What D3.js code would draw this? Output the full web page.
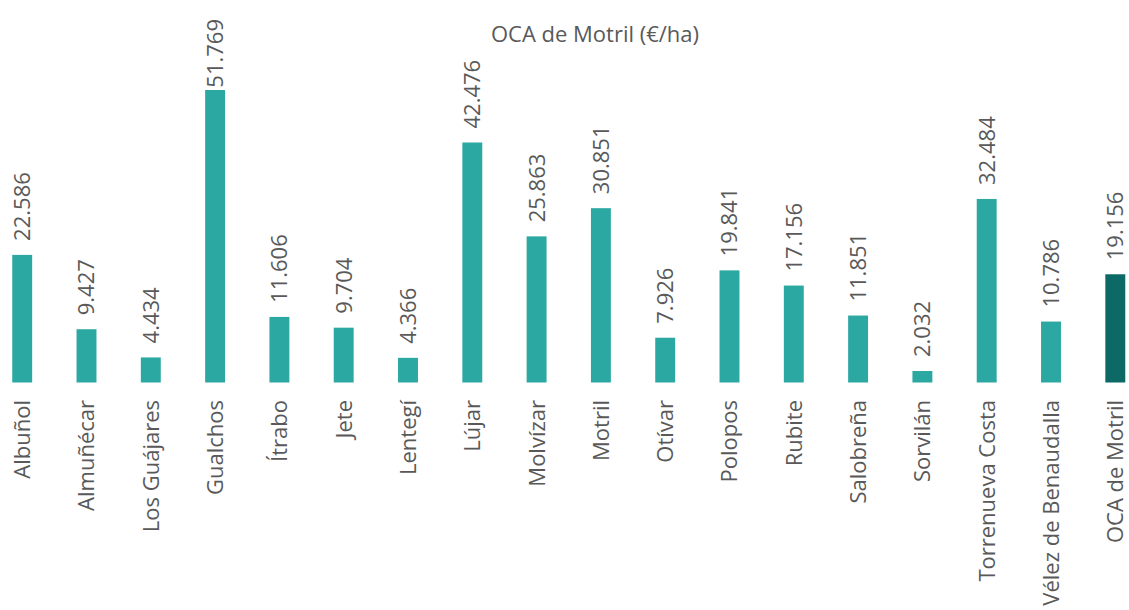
<!DOCTYPE html>
<html>
<head>
<meta charset="utf-8">
<script src="https://cdn.jsdelivr.net/npm/d3@7"></script>
<style>
  html, body { margin: 0; padding: 0; background: #fff; }
  svg { display: block; }
  text { font-family: "Open Sans", "Noto Sans", sans-serif; fill: #595959; }
</style>
</head>
<body>
<svg id="chart" width="1129" height="610"></svg>
<script>
const title = "OCA de Motril (€/ha)";
const categories = ["Albuñol", "Almuñécar", "Los Guájares", "Gualchos", "Ítrabo", "Jete", "Lentegí", "Lújar", "Molvízar", "Motril", "Otívar", "Polopos", "Rubite", "Salobreña", "Sorvilán", "Torrenueva Costa", "Vélez de Benaudalla", "OCA de Motril"];
const values = [22.586, 9.427, 4.434, 51.769, 11.606, 9.704, 4.366, 42.476, 25.863, 30.851, 7.926, 19.841, 17.156, 11.851, 2.032, 32.484, 10.786, 19.156];
const valueLabels = ["22.586", "9.427", "4.434", "51.769", "11.606", "9.704", "4.366", "42.476", "25.863", "30.851", "7.926", "19.841", "17.156", "11.851", "2.032", "32.484", "10.786", "19.156"];
const highlight = "OCA de Motril";

const svg = d3.select("#chart");
const W = 1129, H = 610;
const step = 64.3;
const r0 = 22.2 - step / 2;

const x = d3.scaleBand()
  .domain(categories)
  .range([r0, r0 + step * categories.length])
  .paddingInner(0.69)
  .paddingOuter(0.345);

const y = d3.scaleLinear()
  .domain([0, 51.769])
  .range([382.5, 90]);

const data = categories.map((c, i) => ({ c, v: values[i], l: valueLabels[i] }));

// Title
svg.append("text")
  .attr("x", 595)
  .attr("y", 42)
  .attr("text-anchor", "middle")
  .style("font-size", "22px")
  .text(title);

// Bars
svg.append("g").selectAll("rect")
  .data(data)
  .join("rect")
  .attr("x", d => x(d.c))
  .attr("width", x.bandwidth())
  .attr("y", d => y(d.v))
  .attr("height", d => y(0) - y(d.v))
  .attr("fill", d => d.c === highlight ? "#0d6966" : "#2ca8a3");

// Value labels (rotated)
const vl = svg.append("g").selectAll("text")
  .data(data)
  .join("text")
  .style("font-size", "22px")
  .attr("text-anchor", "start")
  .attr("dy", "0.36em")
  .text(d => d.l);

vl.each(function(d) {
  const len = this.getComputedTextLength();
  let anchor = y(d.v) - 14;
  if (anchor - len < 19) anchor = 19 + len;
  const cx = x(d.c) + x.bandwidth() / 2;
  d3.select(this).attr("transform", `translate(${cx},${anchor}) rotate(-90)`);
});

// Category labels (rotated)
svg.append("g").selectAll("text")
  .data(data)
  .join("text")
  .style("font-size", "22px")
  .attr("text-anchor", "end")
  .attr("dy", "0.36em")
  .attr("transform", d => `translate(${x(d.c) + x.bandwidth() / 2},400) rotate(-90)`)
  .text(d => d.c);
</script>
</body>
</html>
